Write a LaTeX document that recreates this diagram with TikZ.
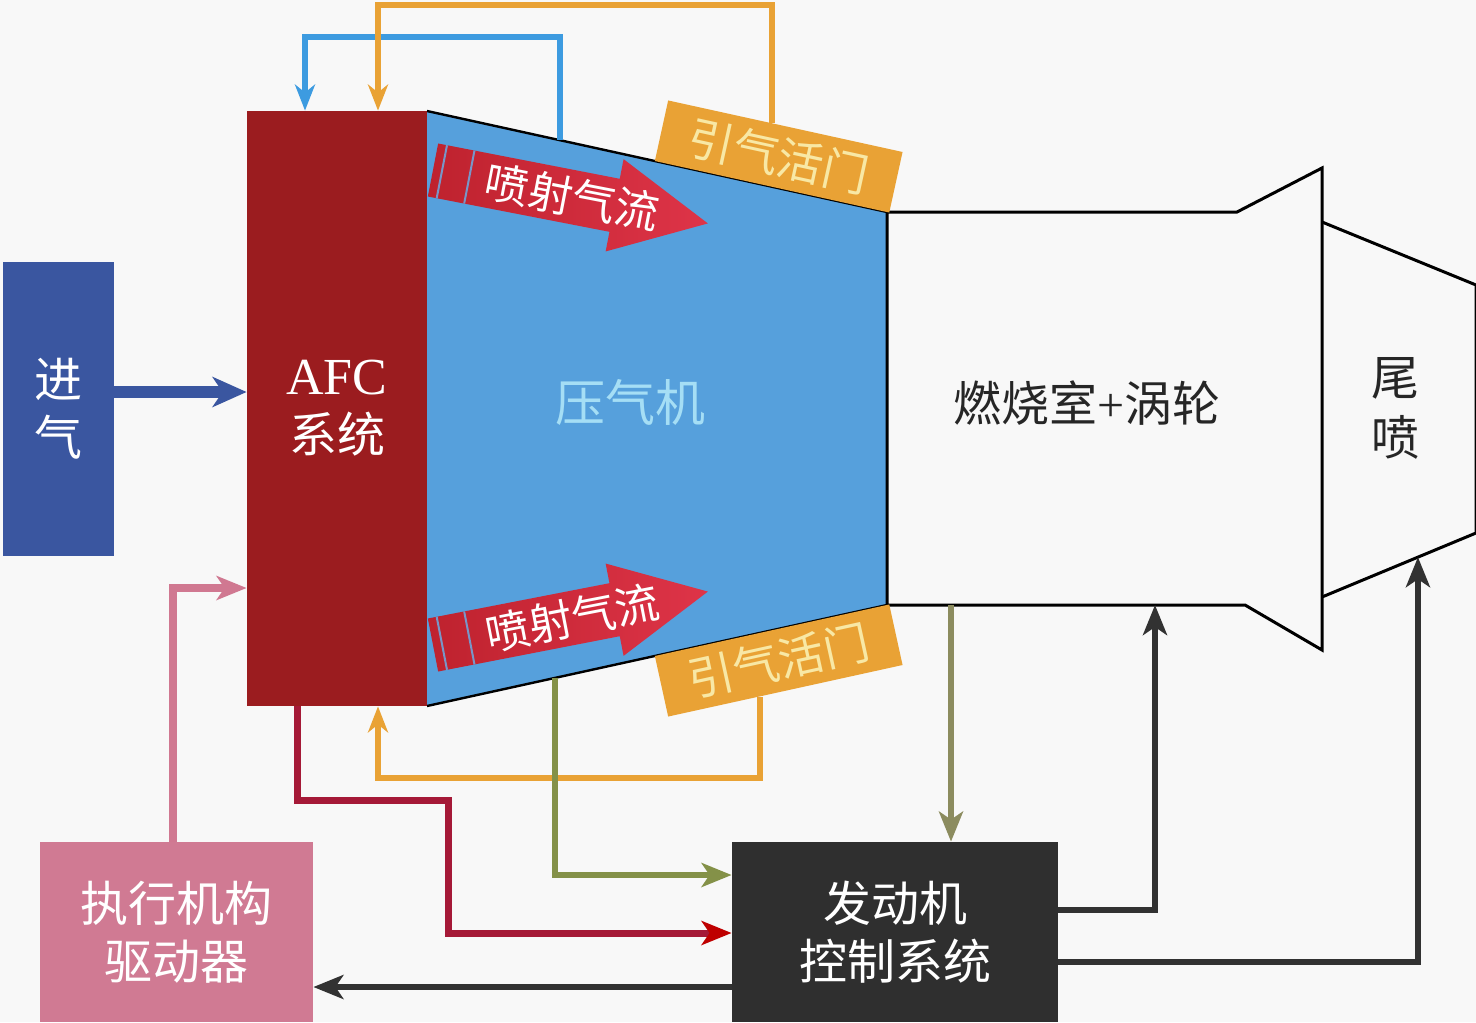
\documentclass[tikz,border=0pt]{standalone}
\usepackage{fontspec}
\setmainfont{Liberation Serif}
\newfontfamily\cjk{Noto Sans CJK SC}
\usetikzlibrary{arrows.meta,calc}
\definecolor{bgc}{RGB}{248,248,248}
\definecolor{inblue}{RGB}{58,86,160}
\definecolor{afcred}{RGB}{155,28,31}
\definecolor{compblue}{RGB}{86,160,220}
\definecolor{comptext}{RGB}{165,222,245}
\definecolor{vorange}{RGB}{233,162,53}
\definecolor{vtext}{RGB}{248,232,165}
\definecolor{jetred}{RGB}{190,34,46}
\definecolor{jetredb}{RGB}{222,52,72}
\definecolor{stripe}{RGB}{120,150,200}
\definecolor{pinkc}{RGB}{208,122,147}
\definecolor{darkc}{RGB}{47,47,47}
\definecolor{lblue}{RGB}{61,155,224}
\definecolor{crim}{RGB}{165,25,55}
\definecolor{olive}{RGB}{132,145,72}
\definecolor{oliveb}{RGB}{140,140,95}
\definecolor{pinkl}{RGB}{208,120,145}
\definecolor{darkl}{RGB}{50,50,50}
\begin{document}
\begin{tikzpicture}[x=0.5pt,y=-0.5pt,
  lbl/.style={font=\fontsize{24}{29}\selectfont\cjk, align=center, inner sep=0pt},
  box/.style={lbl, rectangle, text=white},
  valve/.style={rectangle, fill=vorange, text=vtext, inner sep=0pt, minimum width=120pt, minimum height=31pt, font=\fontsize{23}{26}\selectfont\cjk},
  jettext/.style={font=\fontsize{22}{26}\selectfont\cjk, text=white, inner sep=0pt},
  jetshade/.style={left color=jetred, right color=jetredb},
  tipS/.style={-{Stealth[length=13pt,width=10pt,inset=4pt]}},
  tipL/.style={-{Stealth[length=15pt,width=12pt,inset=4pt]}},
  outline/.style={draw=black, line width=1.5pt, line join=miter}
]
\fill[bgc] (0,0) rectangle (1476,1022);
\useasboundingbox (0,0) rectangle (1476,1022);

% compressor
\coordinate (cTL) at (427,111);
\coordinate (cTR) at (887,212);
\coordinate (cBR) at (887,605);
\coordinate (cBL) at (427,706);
\fill[compblue] (cTL) -- (cTR) -- (cBR) -- (cBL) -- cycle;
\draw[black, line width=1.2pt] (cTL) -- (cTR);
\draw[black, line width=1.2pt] (cBL) -- (cBR);

% nozzle
\coordinate (nTL) at (1322,222);
\coordinate (nTR) at (1476,285);
\coordinate (nBR) at (1476,533);
\coordinate (nBL) at (1322,597);
\filldraw[fill=bgc, outline] (nTL) -- (nTR) -- (nBR) -- (nBL);

% combustor + turbine
\filldraw[fill=bgc, outline] (cTR) -- (1237,212) -- (1322,168) -- (1322,650) -- (1245,605) -- (cBR) -- cycle;

% jet arrows
\begin{scope}[shift={(433,170)}, rotate=-11]
  \shade[jetshade] (0,-27) -- (185,-27) -- (185,-47) -- (280,0) -- (185,47) -- (185,27) -- (0,27) -- cycle;
  \fill[stripe] (8,-27) rectangle (10,27);
  \fill[stripe] (36,-27) rectangle (38,27);
  \node[jettext, rotate=-11] (jt1) at (142,0) {喷射气流};
\end{scope}
\begin{scope}[shift={(433,645)}, rotate=11]
  \shade[jetshade] (0,-27) -- (185,-27) -- (185,-47) -- (280,0) -- (185,47) -- (185,27) -- (0,27) -- cycle;
  \fill[stripe] (8,-27) rectangle (10,27);
  \fill[stripe] (36,-27) rectangle (38,27);
  \node[jettext, rotate=11] (jt2) at (142,0) {喷射气流};
\end{scope}

% valves
\node[valve, rotate=-12.4] (vtop) at (778.7,156.5) {引气活门};
\node[valve, rotate=12.4] (vbot) at (778.7,660.5) {引气活门};

% boxes
\node[box, fill=inblue, minimum width=55.5pt, minimum height=147pt] (inlet) at (58.5,409) {进\\气};
\node[box, fill=afcred, minimum width=90pt, minimum height=297.5pt] (afc) at (337,408.5) {{\rmfamily\fontsize{26}{31}\selectfont AFC}\\系统};
\node[box, fill=pinkc, minimum width=136.5pt, minimum height=90pt] (act) at (176.5,932) {执行机构\\驱动器};
\node[box, fill=darkc, minimum width=163pt, minimum height=90pt] (ecs) at (895,932) {发动机\\控制系统};

% labels
\node[lbl, text=comptext, font=\fontsize{25}{29}\selectfont\cjk] (lcomp) at (630,402) {压气机};
\node[lbl, text=black!85] (lcomb) at (1087,403) {燃烧室{\rmfamily+}涡轮};
\node[lbl, text=black!85, font=\fontsize{24}{30}\selectfont\cjk] (lnoz) at (1395,408) {尾\\喷};

% connectors
\coordinate (bt) at ($(cTL)!0.289!(cTR)$);
\coordinate (b1) at (305,37);
\draw[lblue, line width=2.8pt, tipS] (bt) |- (b1) -- (b1 |- afc.north);

\coordinate (ot) at ($(vtop.north west)!0.443!(vtop.north east)$);
\coordinate (o1) at (378,5);
\draw[vorange, line width=3.3pt, tipS] (ot) |- (o1) -- (o1 |- afc.north);

\coordinate (ob) at ($(vbot.south west)!0.392!(vbot.south east)$);
\coordinate (o2) at (378,778);
\draw[vorange, line width=3.3pt, tipS] (ob) |- (o2) -- (o2 |- afc.south);

\coordinate (i1) at ($(inlet.east)+(0,-17)$);
\draw[inblue, line width=6pt, -{Stealth[length=17pt,width=15pt,inset=5pt]}] (i1) -- (i1 -| afc.west);

\coordinate (p1) at (173,588);
\draw[pinkl, line width=4pt, tipL] (act.north -| p1) |- (afc.west |- p1);

\coordinate (r1) at (297,800);
\coordinate (r2) at (448,933);
\draw[crim, line width=3.5pt, -{Stealth[length=15pt,width=12pt,inset=4pt,color=red!75!black]}] (r1 |- afc.south) -- (r1) -| (r2) -- (r2 -| ecs.west);

\coordinate (ct2) at ($(cBL)!0.278!(cBR)$);
\coordinate (g1) at (0,875);
\draw[olive, line width=3pt, tipL] (ct2) |- (ecs.west |- g1);

\coordinate (cb) at (951,605);
\draw[oliveb, line width=3pt, tipL] (cb) -- (cb |- ecs.north);

\coordinate (k1) at (1155,910);
\draw[darkl, line width=3pt, tipL] (ecs.east |- k1) -| (k1 |- cBR);

\coordinate (nz) at ($(nBL)!0.623!(nBR)$);
\coordinate (k2) at (1418,962);
\draw[darkl, line width=3pt, tipL] (ecs.east |- k2) -| (nz);

\coordinate (k3) at (0,987);
\draw[darkl, line width=3pt, tipL] (ecs.west |- k3) -- (act.east |- k3);
\end{tikzpicture}
\end{document}
